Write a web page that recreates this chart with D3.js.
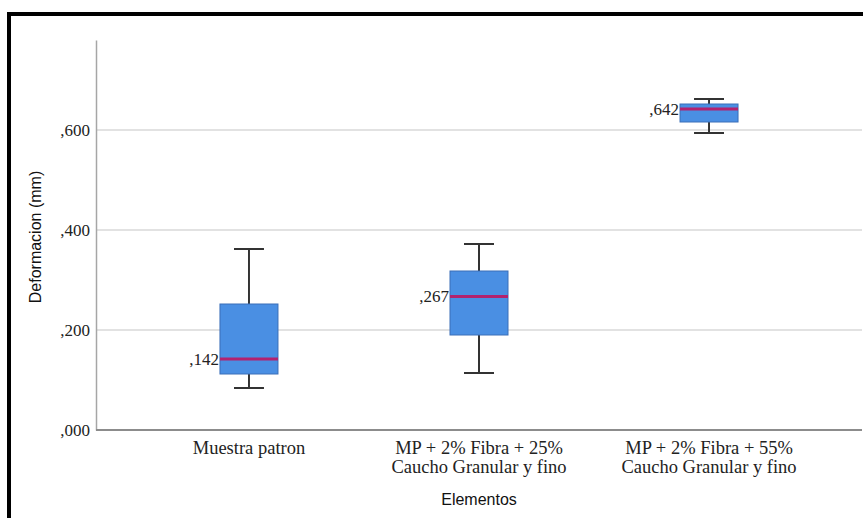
<!DOCTYPE html>
<html>
<head>
<meta charset="utf-8">
<script src="https://cdn.jsdelivr.net/npm/d3@7"></script>
<style>
  body { margin: 0; background: #fff; }
</style>
</head>
<body>
<div id="chart"></div>
<script>
// Box plot values
const categories = ["Muestra patron", "MP + 2% Fibra + 25% Caucho Granular y fino", "MP + 2% Fibra + 55% Caucho Granular y fino"];
const categoryLines = [["Muestra patron"], ["MP + 2% Fibra + 25%", "Caucho Granular y fino"], ["MP + 2% Fibra + 55%", "Caucho Granular y fino"]];
const whiskerLow = [0.084, 0.114, 0.594];
const q1 = [0.112, 0.190, 0.616];
const median = [0.142, 0.267, 0.642];
const q3 = [0.252, 0.318, 0.652];
const whiskerHigh = [0.362, 0.372, 0.662];
const yTicks = [0, 0.2, 0.4, 0.6];

const width = 863;
const height = 518;

const svg = d3.select("#chart")
    .append("svg")
    .attr("width", width)
    .attr("height", height);

// outer frame
svg.append("rect")
    .attr("x", 9)
    .attr("y", 14)
    .attr("width", 900)
    .attr("height", 600)
    .attr("fill", "none")
    .attr("stroke", "#000")
    .attr("stroke-width", 4);

const x = d3.scalePoint()
    .domain(categories)
    .range([96, 862])
    .padding(0.665);

const y = d3.scaleLinear()
    .domain([0, 0.78])
    .range([430, 40]);

// SPSS style number: ,600
const fmt = v => d3.format(".3f")(v).replace(/^0/, "").replace(".", ",");

// grid lines
svg.append("g")
    .selectAll("line")
    .data(yTicks.filter(d => d > 0))
    .enter()
    .append("line")
    .attr("x1", 96)
    .attr("x2", 862)
    .attr("y1", d => y(d))
    .attr("y2", d => y(d))
    .attr("stroke", "#d9d9d9")
    .attr("stroke-width", 1.5);

// y axis
const yAxis = svg.append("g")
    .attr("transform", "translate(96,0)")
    .call(d3.axisLeft(y).tickValues(yTicks).tickFormat(fmt).tickSize(0).tickPadding(6));
yAxis.select(".domain").attr("stroke", "#a6a6a6").attr("stroke-width", 1.5);
yAxis.selectAll("text")
    .style("font-family", "'Liberation Serif', 'Times New Roman', serif")
    .style("font-size", "17px")
    .attr("fill", "#222");

// x axis line
svg.append("line")
    .attr("x1", 96)
    .attr("x2", 862)
    .attr("y1", y(0))
    .attr("y2", y(0))
    .attr("stroke", "#8c8c8c")
    .attr("stroke-width", 2);

const boxW = 58;
const capW = 30;
const idx = d3.range(categories.length);

const boxes = svg.append("g")
    .selectAll("g")
    .data(idx)
    .enter()
    .append("g");

// whiskers
boxes.append("line")
    .attr("x1", i => x(categories[i]))
    .attr("x2", i => x(categories[i]))
    .attr("y1", i => y(whiskerHigh[i]))
    .attr("y2", i => y(q3[i]))
    .attr("stroke", "#333")
    .attr("stroke-width", 2);
boxes.append("line")
    .attr("x1", i => x(categories[i]))
    .attr("x2", i => x(categories[i]))
    .attr("y1", i => y(q1[i]))
    .attr("y2", i => y(whiskerLow[i]))
    .attr("stroke", "#333")
    .attr("stroke-width", 2);
boxes.append("line")
    .attr("x1", i => x(categories[i]) - capW / 2)
    .attr("x2", i => x(categories[i]) + capW / 2)
    .attr("y1", i => y(whiskerHigh[i]))
    .attr("y2", i => y(whiskerHigh[i]))
    .attr("stroke", "#333")
    .attr("stroke-width", 2);
boxes.append("line")
    .attr("x1", i => x(categories[i]) - capW / 2)
    .attr("x2", i => x(categories[i]) + capW / 2)
    .attr("y1", i => y(whiskerLow[i]))
    .attr("y2", i => y(whiskerLow[i]))
    .attr("stroke", "#333")
    .attr("stroke-width", 2);

// box
boxes.append("rect")
    .attr("x", i => x(categories[i]) - boxW / 2)
    .attr("y", i => y(q3[i]))
    .attr("width", boxW)
    .attr("height", i => y(q1[i]) - y(q3[i]))
    .attr("fill", "#4a8fe3")
    .attr("stroke", "#3a6eb8")
    .attr("stroke-width", 1);

// median
boxes.append("line")
    .attr("x1", i => x(categories[i]) - boxW / 2)
    .attr("x2", i => x(categories[i]) + boxW / 2)
    .attr("y1", i => y(median[i]))
    .attr("y2", i => y(median[i]))
    .attr("stroke", "#b2226f")
    .attr("stroke-width", 3);

// median labels
boxes.append("text")
    .attr("x", i => x(categories[i]) - boxW / 2 - 1)
    .attr("y", i => y(median[i]))
    .attr("dy", "0.35em")
    .attr("text-anchor", "end")
    .style("font-family", "'Liberation Serif', 'Times New Roman', serif")
    .style("font-size", "17px")
    .attr("fill", "#222")
    .text(i => fmt(median[i]));

// category labels
svg.append("g")
    .selectAll("text")
    .data(idx)
    .enter()
    .append("text")
    .attr("text-anchor", "middle")
    .style("font-family", "'Liberation Serif', 'Times New Roman', serif")
    .style("font-size", "18.5px")
    .attr("fill", "#222")
    .each(function(i) {
        d3.select(this).selectAll("tspan")
            .data(categoryLines[i])
            .enter()
            .append("tspan")
            .attr("x", x(categories[i]))
            .attr("y", (d, k) => 454 + k * 19)
            .text(d => d);
    });

// axis titles
svg.append("text")
    .attr("x", 479)
    .attr("y", 505)
    .attr("text-anchor", "middle")
    .style("font-family", "'Liberation Sans', Arial, sans-serif")
    .style("font-size", "16px")
    .attr("fill", "#111")
    .text("Elementos");

svg.append("text")
    .attr("transform", "translate(41,237) rotate(-90)")
    .attr("text-anchor", "middle")
    .style("font-family", "'Liberation Sans', Arial, sans-serif")
    .style("font-size", "16px")
    .attr("fill", "#111")
    .text("Deformacion (mm)");
</script>
</body>
</html>
